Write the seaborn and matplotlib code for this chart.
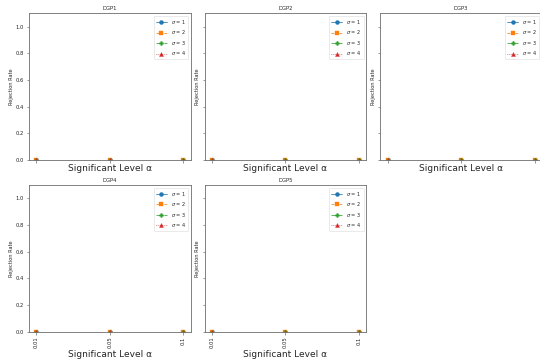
import matplotlib
matplotlib.use("Agg")
import matplotlib.pyplot as plt
import seaborn as sns
import pandas as pd

titles = ["DGP1", "DGP2", "DGP3", "DGP4", "DGP5"]
alphas = ["0.01", "0.05", "0.1"]
sigma_labels = [r"$\sigma$ = 1", r"$\sigma$ = 2", r"$\sigma$ = 3", r"$\sigma$ = 4"]
# rejection rates per DGP, per sigma, per alpha
rates = {
    "DGP1": [[0.0, 0.0, 0.0], [0.0, 0.0, 0.0], [0.0, 0.0, 0.0], [0.0, 0.0, 0.0]],
    "DGP2": [[0.0, 0.0, 0.0], [0.0, 0.0, 0.0], [0.0, 0.0, 0.0], [0.0, 0.0, 0.0]],
    "DGP3": [[0.0, 0.0, 0.0], [0.0, 0.0, 0.0], [0.0, 0.0, 0.0], [0.0, 0.0, 0.0]],
    "DGP4": [[0.0, 0.0, 0.0], [0.0, 0.0, 0.0], [0.0, 0.0, 0.0], [0.0, 0.0, 0.0]],
    "DGP5": [[0.0, 0.0, 0.0], [0.0, 0.0, 0.0], [0.0, 0.0, 0.0], [0.0, 0.0, 0.0]],
}
colors = ["#1f77b4", "#ff7f0e", "#2ca02c", "#d62728"]
markers = ["o", "s", "P", "^"]
linestyles = ["-", "--", "-.", ":"]

sns.set_style("ticks")
plt.rcParams["font.family"] = ["DejaVu Sans"]

fig, axes = plt.subplots(2, 3, figsize=(15, 364 / 36), dpi=36, sharex=True, sharey=True)
fig.subplots_adjust(left=0.0537, right=1.0037, bottom=0.0887, top=0.9635,
                    wspace=0.0866, hspace=0.173)

for i, name in enumerate(titles):
    ax = axes.flat[i]
    for j, lab in enumerate(sigma_labels):
        df = pd.DataFrame({"alpha": alphas, "rate": rates[name][j]})
        sns.lineplot(data=df, x="alpha", y="rate", ax=ax, color=colors[j],
                     marker=markers[j], linestyle=linestyles[j], label=lab,
                     markersize=8, linewidth=1.5, markeredgecolor=colors[j])
    ax.set_title(name, fontsize=10.5)
    ax.set_ylabel("Rejection Rate", fontsize=10)
    ax.set_xlabel("Significant Level α", fontsize=18)
    ax.xaxis.label.set_visible(True)
    ax.yaxis.label.set_visible(True)
    ax.set_ylim(0, 1.1)
    ax.set_yticks([0.0, 0.2, 0.4, 0.6, 0.8, 1.0])
    ax.tick_params(labelsize=10.5, width=1.2, length=5, color="#555555", pad=5)
    ax.tick_params(axis="x", labelrotation=90)
    ax.legend(loc="upper right", fontsize=10, handlelength=2.2)
    for s in ax.spines.values():
        s.set_color("#777777")
        s.set_linewidth(1.8)

axes.flat[5].remove()

fig.savefig("out.png", dpi=36)
